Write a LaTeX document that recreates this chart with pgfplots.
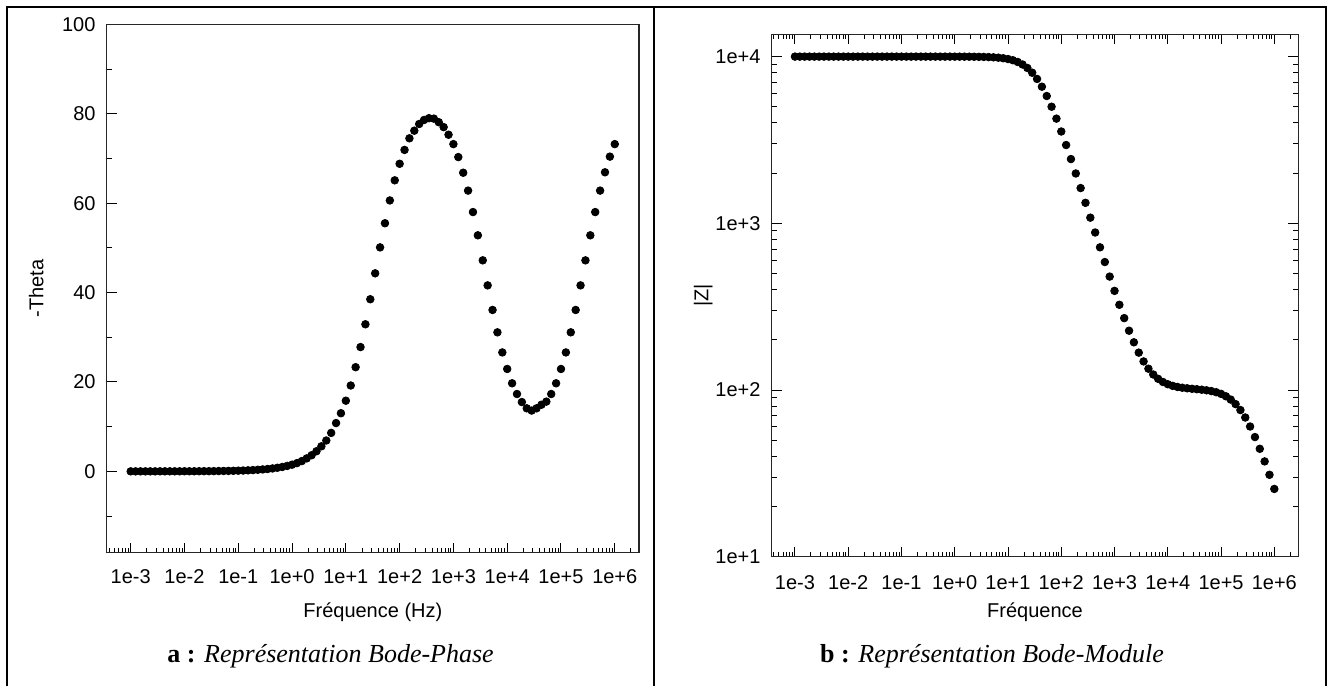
\documentclass[border=0pt]{standalone}
\usepackage{pgfplots}
\usepackage{pgfplotstable}
\pgfplotsset{compat=1.18}
\usepackage{fontspec}
\setmainfont{Liberation Sans}
\newfontfamily\capfont{Liberation Serif}

\pgfplotstableread{
f ph z
0.001 0.00 10000
0.001233 0.00 10000
0.00152 0.00 10000
0.001874 0.00 10000
0.00231 0.00 10000
0.002848 0.00 10000
0.003511 0.01 10000
0.004329 0.01 10000
0.005337 0.01 10000
0.006579 0.01 10000
0.008111 0.01 10000
0.01 0.02 10000
0.01233 0.02 10000
0.0152 0.02 10000
0.01874 0.03 10000
0.0231 0.04 10000
0.02848 0.04 10000
0.03511 0.05 10000
0.04329 0.07 10000
0.05337 0.08 10000
0.06579 0.10 10000
0.08111 0.12 10000
0.1 0.15 10000
0.1233 0.18 10000
0.152 0.23 10000
0.1874 0.28 10000
0.231 0.35 10000
0.2848 0.43 10000
0.3511 0.52 10000
0.4329 0.65 10000
0.5337 0.80 9999
0.6579 0.98 9998.5
0.8111 1.21 9997.7
1 1.49 9996.6
1.233 1.84 9994.7
1.52 2.3 9992.0
1.874 2.9 9987.9
2.31 3.6 9981.6
2.848 4.5 9972.1
3.511 5.6 9957.7
4.329 6.9 9935.8
5.337 8.6 9902.9
6.579 10.8 9853.6
8.111 13.0 9780.0
10 15.8 9671.2
12.33 19.2 9512.2
15.2 23.3 9285.8
18.74 27.8 8969.8
23.1 32.9 8546.6
28.48 38.5 8003.9
35.11 44.3 7347.0
43.29 50.1 6599.7
53.37 55.5 5803.1
65.79 60.6 5004.5
81.11 65.1 4245.4
100 68.8 3555.2
123.3 71.9 2948.8
152 74.5 2428.8
187.4 76.2 1991.0
231 77.7 1627.1
284.8 78.6 1327.0
351.1 79.0 1081.2
432.9 78.9 880.8
533.7 78.1 717.8
657.9 77.0 585.7
811.1 75.3 479.1
1000 73.2 393.3
1233 70.3 324.5
1520 66.8 269.9
1874 62.8 226.8
2310 58.0 193.3
2848 52.8 167.6
3511 47.2 148.4
4329 41.6 134.2
5337 36.1 123.9
6579 31.1 116.7
8111 26.6 111.7
10000 22.9 108.3
12330 19.7 105.9
15200 17.3 104.3
18740 15.5 103.2
23100 14.1 102.4
28480 13.6 101.7
35110 14.1 101.1
43290 14.9 100.4
53370 15.6 99.6
65790 17.3 98.5
81110 19.7 97.0
100000 22.9 94.8
123300 26.6 91.7
152000 31.1 87.6
187400 36.1 82.3
231000 41.6 75.8
284800 47.2 68.4
351100 52.8 60.4
432900 58.0 52.2
533700 62.8 44.4
657900 66.9 37.3
811100 70.4 31.0
1000000 73.2 25.5
}\bodedata

\pgfplotsset{
  bodestyle/.style={
    scale only axis,
    anchor=south west,
    clip=false,
    xtick={1e-3,1e-2,1e-1,1,10,100,1000,1e4,1e5,1e6},
    xticklabels={1e-3,1e-2,1e-1,1e+0,1e+1,1e+2,1e+3,1e+4,1e+5,1e+6},
    minor xtick={4e-4,5e-4,6e-4,7e-4,8e-4,9e-4,
      2e-3,3e-3,4e-3,5e-3,6e-3,7e-3,8e-3,9e-3,
      0.02,0.03,0.04,0.05,0.06,0.07,0.08,0.09,
      0.2,0.3,0.4,0.5,0.6,0.7,0.8,0.9,
      2,3,4,5,6,7,8,9,
      20,30,40,50,60,70,80,90,
      200,300,400,500,600,700,800,900,
      2000,3000,4000,5000,6000,7000,8000,9000,
      2e4,3e4,4e4,5e4,6e4,7e4,8e4,9e4,
      2e5,3e5,4e5,5e5,6e5,7e5,8e5,9e5,2e6},
    major tick length=5pt,
    minor tick length=2.5pt,
    tick style={black, line width=0.5pt},
    axis line style={black!85, line width=0.55pt},
    every tick label/.append style={font=\fontsize{10}{12}\selectfont, inner sep=0pt},
    yticklabel style={anchor=east, xshift=-5.4pt},
  },
}

\begin{document}
\begin{tikzpicture}[x=0.5pt,y=-0.5pt]
\useasboundingbox (0,0) rectangle (1330,686);
\draw[line width=1.15pt] (7.3,700) -- (7.3,6.7) -- (1326,6.7) -- (1326,700);
\draw[line width=1.15pt] (654,6.7) -- (654,700);

\begin{axis}[xmode=log, bodestyle,
  at={(53.35pt,-276.35pt)},
  width=266.15pt, height=264.2pt,
  xmin=3.58e-4, xmax=2.82e6,
  ymin=-18.2, ymax=100,
  tick pos=left,
  ytick={0,20,40,60,80,100},
  yticklabels={0,20,40,60,80,100},
  minor ytick={-10,10,30,50,70,90},
  xticklabel style={anchor=base, yshift=-15.15pt},
]
\addplot[only marks, mark=*, mark size=1.9pt, black] table[x=f, y=ph] {\bodedata};
\node[anchor=base, inner sep=0pt, yshift=-32.15pt, font=\fontsize{10}{12}\selectfont] at (rel axis cs:0.5,0) {Fréquence (Hz)};
\node[xshift=-31.7pt, rotate=90, anchor=base, inner sep=0pt, font=\fontsize{10}{12}\selectfont] at (rel axis cs:0,0.5) {-Theta};
\end{axis}

\begin{axis}[xmode=log, ymode=log, bodestyle,
  at={(385.85pt,-278.35pt)},
  width=263.3pt, height=261.2pt,
  xmin=3.66e-4, xmax=2.82e6,
  ymin=10, ymax=13610,
  tick pos=both,
  ytick={10,100,1000,10000},
  yticklabels={1e+1,1e+2,1e+3,1e+4},
  minor ytick={20,30,40,50,60,70,80,90,200,300,400,500,600,700,800,900,2000,3000,4000,5000,6000,7000,8000,9000},
  xticklabel style={anchor=base, yshift=-16.3pt},
]
\addplot[only marks, mark=*, mark size=1.9pt, black] table[x=f, y=z] {\bodedata};
\node[anchor=base, inner sep=0pt, yshift=-30.15pt, font=\fontsize{10}{12}\selectfont] at (rel axis cs:0.5,0) {Fréquence};
\node[xshift=-31.7pt, rotate=90, anchor=base, inner sep=0pt, font=\fontsize{10}{12}\selectfont] at (rel axis cs:0,0.5) {|Z|};
\end{axis}

\node[anchor=base, inner sep=0pt, font=\capfont\fontsize{13}{15}\selectfont] at (330.6,662) {\textbf{a :} \textit{Représentation Bode-Phase}};
\node[anchor=base, inner sep=0pt, font=\capfont\fontsize{13}{15}\selectfont] at (992,662) {\textbf{b :} \textit{Représentation Bode-Module}};
\end{tikzpicture}
\end{document}
